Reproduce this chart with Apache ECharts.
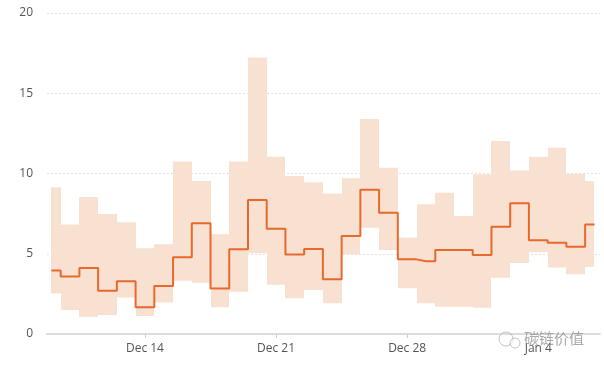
<!DOCTYPE html>
<html>
<head>
<meta charset="utf-8">
<script src="https://cdn.jsdelivr.net/npm/echarts@6/dist/echarts.min.js"></script>
<style>html,body{margin:0;padding:0;background:#fff}#c{width:604px;height:370px}</style>
</head>
<body>
<div id="c"></div>
<script>
// Daily dates (UTC)
var dates = ['2017-12-09','2017-12-10','2017-12-11','2017-12-12','2017-12-13','2017-12-14','2017-12-15','2017-12-16','2017-12-17','2017-12-18',
             '2017-12-19','2017-12-20','2017-12-21','2017-12-22','2017-12-23','2017-12-24','2017-12-25','2017-12-26','2017-12-27','2017-12-28',
             '2017-12-29','2017-12-30','2017-12-31','2018-01-01','2018-01-02','2018-01-03','2018-01-04','2018-01-05','2018-01-06','2018-01-07'];
var median = [3.95,3.59,4.11,2.70,3.28,1.66,2.99,4.78,6.90,2.83,
              5.28,8.35,6.56,4.96,5.30,3.41,6.11,8.99,7.56,4.65,
              4.53,5.23,5.23,4.92,6.69,8.14,5.84,5.69,5.44,6.83];
var low = [2.53,1.50,1.08,1.18,2.28,1.12,1.97,3.32,3.20,1.66,
           2.64,5.03,3.07,2.22,2.74,1.91,4.96,6.62,5.23,2.85,
           1.91,1.70,1.70,1.64,3.51,4.42,5.10,4.14,3.72,4.17];
var high = [9.14,6.83,8.54,7.48,6.96,5.34,5.59,10.74,9.53,6.21,
            10.74,17.22,11.05,9.84,9.45,8.76,9.70,13.40,10.36,6.02,
            8.08,8.80,7.35,9.95,12.02,10.18,11.05,11.61,9.97,9.53];
var tickDates = ['2017-12-14','2017-12-21','2017-12-28','2018-01-04'];

var DAY = 86400000;
function ts(s){var p=s.split('-');return Date.UTC(+p[0],+p[1]-1,+p[2]);}
var MONTHS=['Jan','Feb','Mar','Apr','May','Jun','Jul','Aug','Sep','Oct','Nov','Dec'];
var xs = dates.map(ts);
var xmin = xs[0] - 0.23*DAY;
var xmax = xmin + 29.525*DAY;

var bandData = xs.map(function(x,i){
  var x0 = i===0 ? x : (xs[i-1]+x)/2;
  var x1 = i===xs.length-1 ? x : (x+xs[i+1])/2;
  return [x0, x1, low[i], high[i]];
});
var medData = xs.map(function(x,i){return [x, median[i]];});

var chart = echarts.init(document.getElementById('c'));
chart.setOption({
  animation:false,
  backgroundColor:'#fff',
  grid:{left:47,right:4,top:13,bottom:36,containLabel:false},
  xAxis:{
    type:'value', min:xmin, max:xmax,
    splitLine:{show:false},
    axisLine:{show:true,lineStyle:{color:'#dcdcdc',width:2}},
    axisTick:{show:true,customValues:tickDates.map(ts),length:4,lineStyle:{color:'#cfcfcf'}},
    axisLabel:{show:true,customValues:tickDates.map(ts),margin:9,color:'#555',fontFamily:'Open Sans',fontSize:12,
      formatter:function(v){var d=new Date(v);return MONTHS[d.getUTCMonth()]+' '+d.getUTCDate();}}
  },
  yAxis:{
    type:'value', min:0, max:20, interval:5,
    axisLine:{show:false}, axisTick:{show:false},
    axisLabel:{color:'#555',fontFamily:'Open Sans',fontSize:12,margin:14},
    splitLine:{show:true,lineStyle:{color:'#e2e2e2',type:[2,2],width:1}}
  },
  series:[
    {type:'custom',data:bandData,silent:true,z:1,
      encode:{x:[0,1],y:[2,3]},
      renderItem:function(params,api){
        var p0 = api.coord([api.value(0), api.value(3)]);
        var p1 = api.coord([api.value(1), api.value(2)]);
        var xa = Math.round(p0[0]), xb = Math.round(p1[0]);
        return {type:'rect',shape:{x:xa,y:p0[1],width:xb-xa,height:p1[1]-p0[1]},
                style:{fill:'#f9e1d2'}};
      }},
    {type:'line',step:'middle',data:medData,symbol:'none',lineStyle:{color:'#e8692c',width:2},z:5}
  ],
  graphic:[
    {type:'circle',shape:{cx:506,cy:339,r:7},style:{fill:'none',stroke:'rgba(170,170,170,0.7)',lineWidth:1},z:100},
    {type:'circle',shape:{cx:515,cy:343,r:5},style:{fill:'rgba(255,255,255,0.6)',stroke:'rgba(170,170,170,0.7)',lineWidth:1},z:101},
    {type:'text',left:524,top:331,style:{text:'碳链价值',fill:'rgba(140,140,140,0.75)',font:'15px "Noto Sans CJK SC"'},z:102}
  ]
});
</script>
</body>
</html>
